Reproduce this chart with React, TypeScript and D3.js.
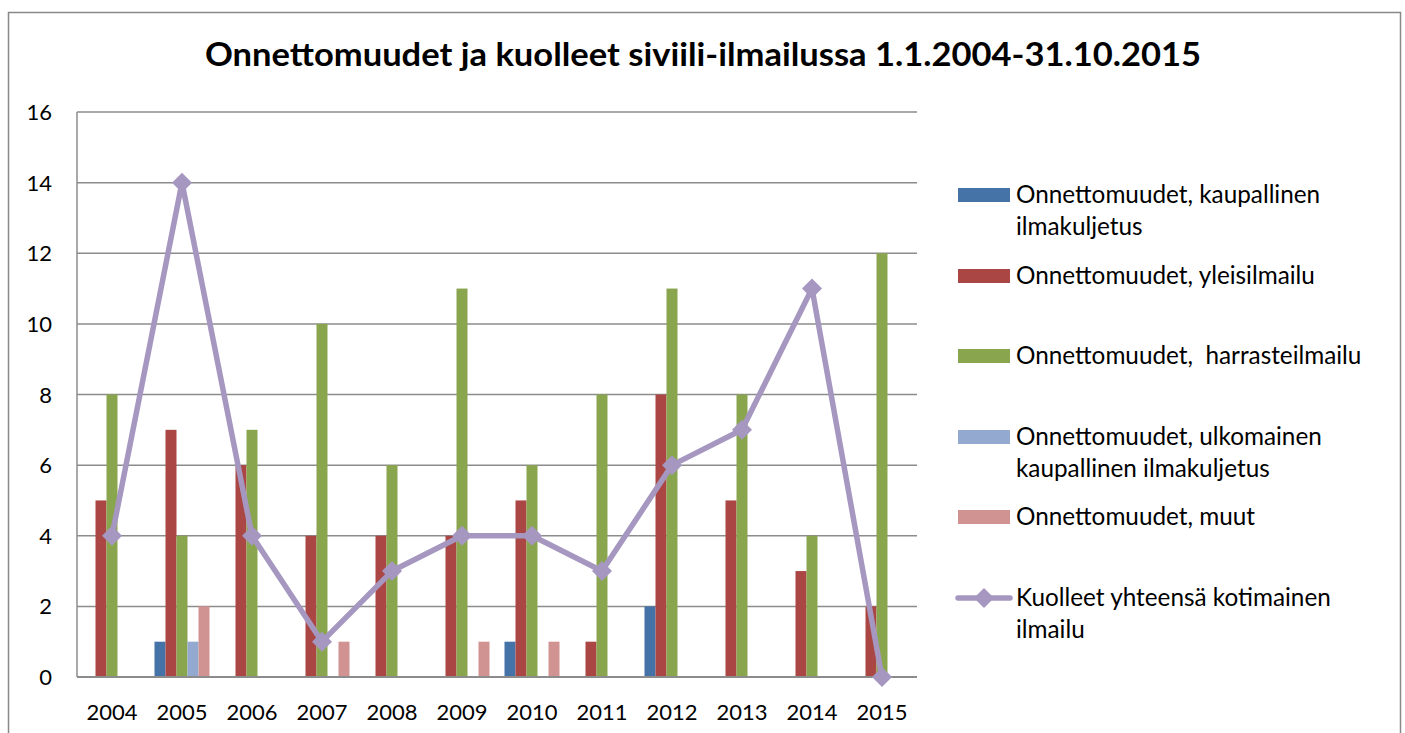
import React from "react";
import * as d3 from "d3";

const years = ["2004","2005","2006","2007","2008","2009","2010","2011","2012","2013","2014","2015"];
const kaupallinen = [0,1,0,0,0,0,1,0,2,0,0,0];
const yleisilmailu = [5,7,6,4,4,4,5,1,8,5,3,2];
const harrasteilmailu = [8,4,7,10,6,11,6,8,11,8,4,12];
const ulkomainen = [0,1,0,0,0,0,0,0,0,0,0,0];
const muut = [0,2,0,1,0,1,1,0,0,0,0,0];
const kuolleet = [4,14,4,1,3,4,4,3,6,7,11,0];
const yTicks = [0,2,4,6,8,10,12,14,16];

const barSeries = [
  { name: ["Onnettomuudet, kaupallinen", "ilmakuljetus"], values: kaupallinen, color: "#4572A7" },
  { name: ["Onnettomuudet, yleisilmailu"], values: yleisilmailu, color: "#AA4643" },
  { name: ["Onnettomuudet,  harrasteilmailu"], values: harrasteilmailu, color: "#89A54E" },
  { name: ["Onnettomuudet, ulkomainen", "kaupallinen ilmakuljetus"], values: ulkomainen, color: "#93A9CF" },
  { name: ["Onnettomuudet, muut"], values: muut, color: "#D19392" },
];
const lineName = ["Kuolleet yhteensä kotimainen", "ilmailu"];
const lineColor = "#A597C0";

const font = "Lato, 'Open Sans', sans-serif";

export default function App() {
  const W = 1405, H = 733;
  const left = 77, right = 917, top = 112, bottom = 677;
  const x = d3.scaleBand<string>().domain(years).range([left, right]);
  const y = d3.scaleLinear().domain([0, 16]).range([bottom, top]);
  const barW = 11;
  const inner = d3.scaleBand<number>().domain(d3.range(5)).range([-27.5, 27.5]);
  const line = d3.line<number>()
    .x((_, i) => (x(years[i]) as number) + x.bandwidth() / 2)
    .y(d => y(d));
  const legendY = [195, 276, 356, 437, 517, 598];
  const lx = 958, tx = 1016;
  const lfs = 24.3;
  const m = 10;
  return (
    <svg width={W} height={H} style={{ position: "absolute", left: 0, top: 0, background: "#fff" }}>
      <rect x={8.5} y={12.5} width={1392} height={740} fill="#fff" stroke="#888" strokeWidth={1.5} />
      <text x={205} y={66} textLength={996} lengthAdjust="spacingAndGlyphs" fontFamily={font} fontWeight="bold" fontSize={32} fill="#000">
        Onnettomuudet ja kuolleet siviili-ilmailussa 1.1.2004-31.10.2015
      </text>
      {yTicks.map(t => (
        <g key={t}>
          <line x1={left} x2={right} y1={y(t)} y2={y(t)} stroke="#8c8c8c" strokeWidth={1.5} />
          <text x={52} y={y(t) + 8} textAnchor="end" fontFamily={font} fontSize={22} fill="#000">{t}</text>
        </g>
      ))}
      <line x1={left} x2={left} y1={top} y2={bottom} stroke="#8c8c8c" strokeWidth={1.5} />
      {years.map(yr => (
        <text key={yr} x={(x(yr) as number) + x.bandwidth() / 2} y={720} textAnchor="middle" fontFamily={font} fontSize={22} fill="#000">{yr}</text>
      ))}
      {barSeries.map((s, si) => (
        <g key={si}>
          {s.values.map((v, i) => v > 0 ? (
            <rect key={i}
              x={(x(years[i]) as number) + x.bandwidth() / 2 + (inner(si) as number)}
              y={y(v)} width={barW} height={bottom - y(v)} fill={s.color} />
          ) : null)}
        </g>
      ))}
      <line x1={left} x2={right} y1={bottom} y2={bottom} stroke="#8c8c8c" strokeWidth={2} />
      <path d={line(kuolleet) as string} fill="none" stroke={lineColor} strokeWidth={5.5} strokeLinejoin="round" />
      {kuolleet.map((v, i) => {
        const cx = (x(years[i]) as number) + x.bandwidth() / 2, cy = y(v);
        return <path key={i} d={`M${cx},${cy - m}L${cx + m},${cy}L${cx},${cy + m}L${cx - m},${cy}Z`} fill={lineColor} />;
      })}
      {barSeries.map((s, si) => (
        <g key={si}>
          <rect x={lx} y={legendY[si] - 7} width={52} height={14} fill={s.color} />
          {s.name.map((n, k) => (
            <text key={k} x={tx} y={legendY[si] + 8 + k * 32} fontFamily={font} fontSize={lfs} fill="#000" style={{ whiteSpace: "pre" }}>{n}</text>
          ))}
        </g>
      ))}
      <g>
        <line x1={lx} x2={lx + 52} y1={legendY[5]} y2={legendY[5]} stroke={lineColor} strokeWidth={5.5} strokeLinecap="round" />
        <path d={`M${lx + 26},${legendY[5] - m}L${lx + 26 + m},${legendY[5]}L${lx + 26},${legendY[5] + m}L${lx + 26 - m},${legendY[5]}Z`} fill={lineColor} />
        {lineName.map((n, k) => (
          <text key={k} x={tx} y={legendY[5] + 8 + k * 32} fontFamily={font} fontSize={lfs} fill="#000">{n}</text>
        ))}
      </g>
    </svg>
  );
}
